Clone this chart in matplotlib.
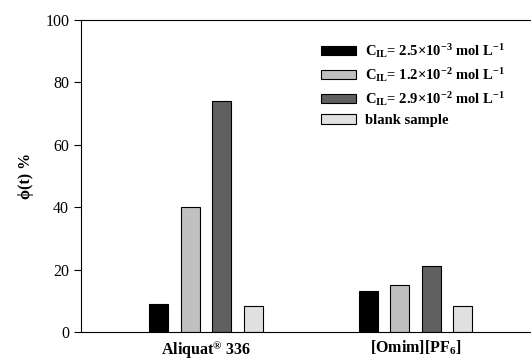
import numpy as np
import matplotlib
matplotlib.use("Agg")
import matplotlib.pyplot as plt

plt.rcParams['font.family'] = 'Liberation Serif'
plt.rcParams['mathtext.fontset'] = 'custom'
plt.rcParams['mathtext.rm'] = 'Liberation Serif:bold'
plt.rcParams['mathtext.bf'] = 'Liberation Serif:bold'
plt.rcParams['mathtext.it'] = 'Liberation Serif:bold'

# data
groups = [r'Aliquat$^{\circledR}$ 336', r'[Omim][PF$_6$]']
c1 = [9, 13]
c2 = [40, 15]
c3 = [74, 21]
blank = [8.3, 8.3]

labels = [r'C$_{IL}$= 2.5×10$^{-3}$ mol L$^{-1}$',
          r'C$_{IL}$= 1.2×10$^{-2}$ mol L$^{-1}$',
          r'C$_{IL}$= 2.9×10$^{-2}$ mol L$^{-1}$',
          'blank sample']
colors = ['#000000', '#c0c0c0', '#606060', '#e0e0e0']

fig = plt.figure(figsize=(5.31, 3.6), dpi=100)
ax = fig.add_axes([81/531, 28/360, 460/531, 312/360])

x = np.arange(len(groups))
w = 0.091
step = 0.151
series = [c1, c2, c3, blank]
for k, (vals, col, lab) in enumerate(zip(series, colors, labels)):
    ax.bar(x + (k - 1.5) * step, vals, width=w, color=col,
           edgecolor='black', linewidth=0.8, label=lab)

ax.set_xlim(-0.598, 1.6)
ax.set_ylim(0, 100)
ax.set_yticks([0, 20, 40, 60, 80, 100])
ax.tick_params(axis='y', direction='out', length=5, labelsize=11.5)
ax.set_xticks(x)
ax.set_xticklabels(groups, fontweight='bold', fontsize=11.5)
ax.tick_params(axis='x', length=0, pad=5)
ax.spines['right'].set_visible(False)
ax.set_ylabel(r'ϕ(t) %', fontweight='bold', fontsize=11.5, labelpad=8)

leg = ax.legend(loc='upper left', bbox_to_anchor=(0.522, 0.93), frameon=False,
                prop={'weight': 'bold', 'size': 10.5}, handlelength=2.4,
                handleheight=0.6, handletextpad=0.6, labelspacing=0.42,
                borderpad=0, borderaxespad=0)

fig.savefig('out.png', dpi=100)
